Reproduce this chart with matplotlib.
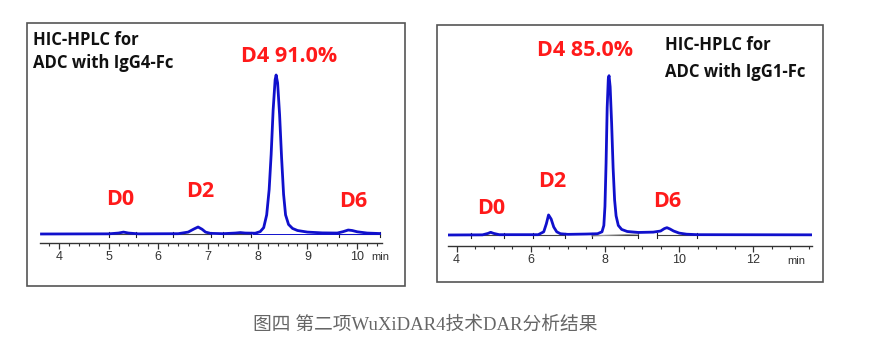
import matplotlib
matplotlib.use("Agg")
import matplotlib.pyplot as plt
from matplotlib.patches import Rectangle
from matplotlib.ticker import MultipleLocator

W, H = 896, 361

# ---- left chromatogram (IgG4-Fc), signal scaled to main peak = 100
t_g4 = [3.65, 5.0, 5.2, 5.3, 5.4, 5.6, 6.4, 6.6, 6.72, 6.8, 6.88, 6.95, 7.05,
        7.3, 7.55, 7.65, 7.75, 7.95, 8.05, 8.12, 8.18, 8.23, 8.27, 8.31, 8.35,
        8.37, 8.4, 8.44, 8.48, 8.52, 8.56, 8.62, 8.7, 8.8, 9.0, 9.3, 9.6, 9.72,
        9.82, 9.9, 10.0, 10.2, 10.45]
y_g4 = [0.0, 0.1, 0.6, 1.2, 0.6, 0.1, 0.2, 1.2, 3.2, 4.4, 3.0, 1.2, 0.4,
        0.2, 0.6, 0.9, 0.6, 0.5, 1.5, 4.0, 12, 28, 50, 78, 97,
        100, 95, 75, 48, 25, 12, 6, 3.5, 2.2, 1.2, 0.7, 0.6, 1.5,
        2.5, 2.2, 1.4, 0.6, 0.3]
base_g4 = [(5.0, 5.56), (6.3, 7.05), (7.31, 7.86), (9.63, 10.45)]

# ---- right chromatogram (IgG1-Fc)
t_g1 = [3.77, 4.7, 4.85, 4.92, 5.0, 5.15, 6.2, 6.35, 6.42, 6.48, 6.55, 6.62,
        6.7, 6.8, 7.0, 7.5, 7.8, 7.92, 7.97, 8.0, 8.03, 8.06, 8.09, 8.11, 8.14,
        8.18, 8.22, 8.26, 8.3, 8.36, 8.45, 8.6, 8.9, 9.3, 9.5, 9.6, 9.67, 9.75,
        9.85, 10.0, 10.2, 10.5, 13.58]
y_g1 = [0.0, 0.1, 1.0, 1.7, 1.0, 0.2, 0.2, 2.0, 7.0, 12.6, 10.0, 5.0,
        2.0, 0.8, 0.4, 0.6, 0.8, 2.0, 6.0, 18, 45, 80, 98, 100, 93,
        70, 42, 22, 12, 6, 3.5, 2.2, 1.6, 1.8, 2.5, 4.0, 4.6, 3.8,
        2.5, 1.2, 0.5, 0.2, 0.1]
base_g1 = [(4.40, 5.28), (6.07, 6.92), (7.64, 8.9), (9.4, 10.48)]

labels_g4 = ["D0", "D2", "D4 91.0%", "D6"]
lab_pos_g4 = [(5.23, 21.4), (6.85, 26.6), (8.63, 111.5), (9.92, 20.3)]
labels_g1 = ["D0", "D2", "D4 85.0%", "D6"]
lab_pos_g1 = [(4.93, 16.9), (6.57, 33.5), (7.47, 116.1), (9.68, 20.9)]

title_g4 = ["HIC-HPLC for", "ADC with IgG4-Fc"]
title_g1 = ["HIC-HPLC for", "ADC with IgG1-Fc"]
caption = "图四 第二项WuXiDAR4技术DAR分析结果"


def fx(px):
    return px / W


def fy(py):
    return 1 - py / H


fig = plt.figure(figsize=(W / 100, H / 100), dpi=100)

# panel frames
for x0, y0, x1, y1 in [(27, 23, 405, 286), (437, 25, 823, 282)]:
    fig.add_artist(Rectangle((fx(x0), fy(y1)), fx(x1) - fx(x0), fy(y0) - fy(y1),
                             transform=fig.transFigure, fill=False,
                             ec="#555555", lw=1.2))


def make_axes(x0, x1, ybot, ytop, xlim, ylim):
    ax = fig.add_axes([fx(x0), fy(ybot), fx(x1) - fx(x0), fy(ytop) - fy(ybot)])
    ax.set_xlim(*xlim)
    ax.set_ylim(*ylim)
    for s in ["top", "left", "right"]:
        ax.spines[s].set_visible(False)
    ax.spines["bottom"].set_color("#333333")
    ax.spines["bottom"].set_linewidth(1.0)
    ax.set_yticks([])
    ax.tick_params(axis="x", which="major", direction="out", length=4,
                   width=0.9, colors="#333333", labelsize=9, pad=2)
    ax.tick_params(axis="x", which="minor", direction="out", length=2.5,
                   width=0.8, colors="#333333")
    ax.patch.set_alpha(0)
    return ax


def draw(ax, t, y, bases, labels, lab_pos):
    for a, b in bases:
        ax.plot([a, b], [-0.3, -0.3], color="#444444", lw=0.8, zorder=1)
        for e in (a, b):
            ax.plot([e, e], [-1.6, 1.0], color="#222222", lw=0.8, zorder=1)
    ax.plot(t, y, color="#1010cc", lw=2.0, zorder=3, solid_joinstyle="round")
    for s, (px, py) in zip(labels, lab_pos):
        ax.text(px, py, s, color="#ff1a1a", fontsize=15.5, fontweight="bold",
                family="Open Sans", ha="center", va="center")


# left panel
ax1 = make_axes(40, 382, 243, 60, (3.62, 10.5), (-5.66, 109.43))
ax1.xaxis.set_major_locator(MultipleLocator(1))
ax1.xaxis.set_minor_locator(MultipleLocator(0.2))
ax1.plot([7.9, 10.45], [0, 0], color="#1010cc", lw=0.7, zorder=2)
draw(ax1, t_g4, y_g4, base_g4, labels_g4, lab_pos_g4)
ax1.set_xticks(range(4, 11))
ax1.set_xticklabels([str(v) for v in range(4, 11)], family="Liberation Sans")
fig.text(fx(380), fy(257), "min", fontsize=8, color="#333333", ha="center",
         va="center", family="Liberation Sans")

# right panel
ax2 = make_axes(448, 812, 245.7, 60, (3.77, 13.58), (-6.72, 109.85))
ax2.xaxis.set_minor_locator(MultipleLocator(0.5))
ax2.plot([7.64, 8.9], [-0.6, 0.6], color="#999999", lw=0.8, zorder=2)
draw(ax2, t_g1, y_g1, base_g1, labels_g1, lab_pos_g1)
ax2.set_xticks(range(4, 13, 2))
ax2.set_xticklabels([str(v) for v in range(4, 13, 2)], family="Liberation Sans")
fig.text(fx(796), fy(261), "min", fontsize=8, color="#333333", ha="center",
         va="center", family="Liberation Sans")

# panel titles
for (px, py), s in zip([(33, 40), (33, 63)], title_g4):
    fig.text(fx(px), fy(py), s, fontsize=12, fontweight="bold",
             family="Open Sans", color="#111111", ha="left", va="center")
for (px, py), s in zip([(665, 45), (665, 71.7)], title_g1):
    fig.text(fx(px), fy(py), s, fontsize=12, fontweight="bold",
             family="Open Sans", color="#111111", ha="left", va="center")

fig.text(fx(425), fy(325), caption, fontsize=13.5, color="#666666",
         ha="center", va="center",
         family=["Liberation Serif", "Noto Sans CJK SC"])

fig.savefig("out.png", dpi=100)
